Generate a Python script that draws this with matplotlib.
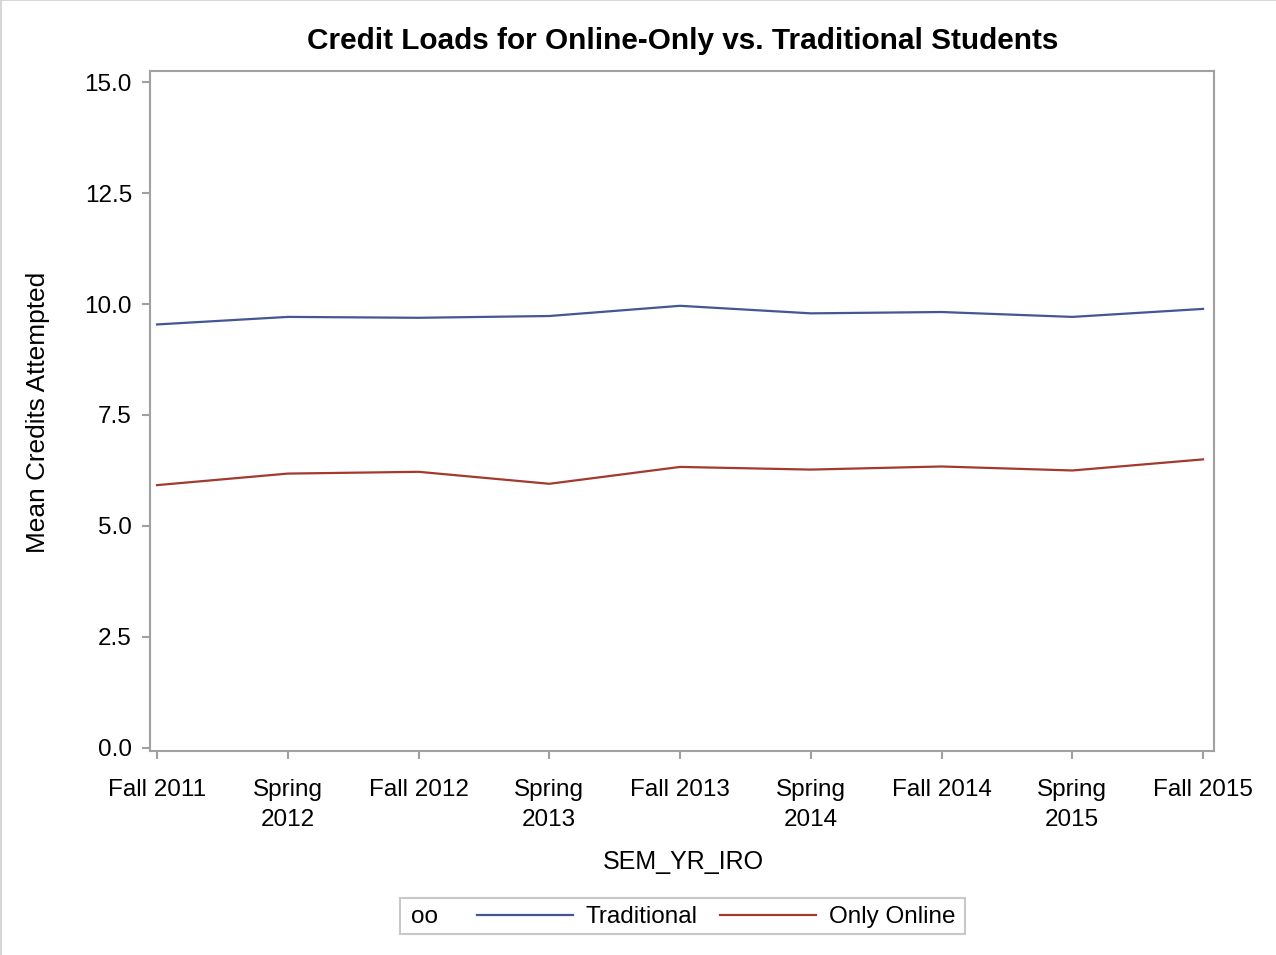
import numpy as np
import matplotlib
matplotlib.use("Agg")
import matplotlib.pyplot as plt
from matplotlib.patches import Rectangle
from matplotlib.lines import Line2D

# data
semesters = ["Fall 2011", "Spring\n2012", "Fall 2012", "Spring\n2013", "Fall 2013",
             "Spring\n2014", "Fall 2014", "Spring\n2015", "Fall 2015"]
traditional = [9.54, 9.71, 9.69, 9.73, 9.96, 9.79, 9.82, 9.71, 9.89]
only_online = [5.92, 6.18, 6.22, 5.95, 6.33, 6.27, 6.34, 6.25, 6.50]
y_ticks = [0.0, 2.5, 5.0, 7.5, 10.0, 12.5, 15.0]

plt.rcParams['font.family'] = ['Liberation Sans', 'DejaVu Sans']
W, H = 1276, 955
fs = 17.5
fig = plt.figure(figsize=(W / 100, H / 100), dpi=100)
ax = fig.add_axes([150 / W, 1 - 751 / H, (1214 - 150) / W, (751 - 71) / H])

x = np.arange(len(semesters))
blue = "#445694"
red = "#A23A2E"
ax.plot(x, traditional, color=blue, lw=1.6)
ax.plot(x, only_online, color=red, lw=1.6)

ax.set_xlim(-0.054, 8.084)
ax.set_ylim(-0.07, 15.25)
ax.set_xticks(x)
ax.set_xticklabels(semesters, linespacing=1.45)
ax.set_yticks(y_ticks)
ax.set_yticklabels(["%.1f" % v for v in y_ticks])

gray = "#a0a0a0"
for s in ax.spines.values():
    s.set_color(gray)
    s.set_linewidth(1.5)
ax.tick_params(colors=gray, labelcolor="black", width=1.5, length=6, labelsize=fs)
ax.tick_params(axis='x', pad=14.5)
ax.tick_params(axis='y', pad=7)

fig.text(683 / W, 1 - 862 / H, "SEM_YR_IRO", ha="center", va="center", fontsize=18)
fig.text(38 / W, 1 - 412 / H, "Mean Credits Attempted", ha="center", va="center",
         rotation=90, fontsize=18.9)
fig.text(683 / W, 1 - 41 / H, "Credit Loads for Online-Only vs. Traditional Students",
         ha="center", va="center", fontsize=21.4, fontweight="bold")

# faint page border on top and left
fig.add_artist(Line2D([0, 1], [1 - 0.5 / H, 1 - 0.5 / H], transform=fig.transFigure,
                      color="#d0d0d0", lw=1.2))
fig.add_artist(Line2D([1.2 / W, 1.2 / W], [0, 1], transform=fig.transFigure,
                      color="#d0d0d0", lw=1.2))

# legend box with group title on the left
fig.patches.append(Rectangle((400 / W, 1 - 934 / H), 565 / W, 36 / H,
                             transform=fig.transFigure, fill=False,
                             edgecolor="#c8c8c8", lw=1.5))
fig.text(411 / W, 1 - 917 / H, "oo", ha="left", va="center", fontsize=fs)
lines = ax.get_lines()
fig.legend(lines, ["Traditional", "Only Online"], ncol=2, frameon=False,
           loc="center left", bbox_to_anchor=(477 / W, 1 - 917 / H),
           borderpad=0, borderaxespad=0, handlelength=3.95, handletextpad=0.53,
           columnspacing=0.9, fontsize=fs)

fig.savefig("out.png", dpi=100)
